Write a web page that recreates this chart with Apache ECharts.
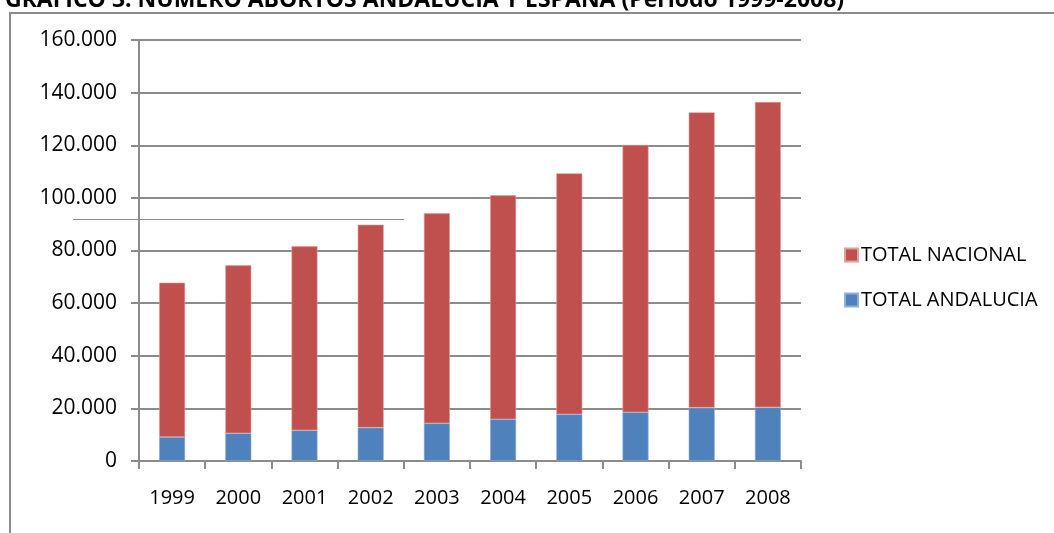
<!DOCTYPE html>
<html>
<head>
<meta charset="utf-8">
<script src="https://cdn.jsdelivr.net/npm/echarts@6/dist/echarts.min.js"></script>
<style>html,body{margin:0;padding:0;background:#fff;}#c{width:1054px;height:533px;}</style>
</head>
<body>
<div id="c"></div>
<script>
var years = ['1999','2000','2001','2002','2003','2004','2005','2006','2007','2008'];
var totalAndalucia = [9120, 10530, 11660, 12670, 14320, 15840, 17740, 18500, 20270, 20390];
var totalNacional = [58650, 63840, 69930, 77130, 79810, 85130, 91590, 101590, 112240, 116040];
var yTicks = [0, 20000, 40000, 60000, 80000, 100000, 120000, 140000, 160000];
var titleText = 'GRAFICO 3. NUMERO ABORTOS ANDALUCIA Y ESPAÑA (Periodo 1999-2008)';

var font = 'Open Sans';
var chart = echarts.init(document.getElementById('c'));
function fmt(v){ if(v===0) return '0'; return String(v).replace(/\B(?=(\d{3})+(?!\d))/g,'.'); }
chart.setOption({
  animation: false,
  backgroundColor: '#fff',
  title: {
    text: titleText, left: 0, top: -16,
    textStyle: {fontFamily: 'Open Sans', fontWeight: 'bold', fontSize: 23, color: '#000'}
  },
  graphic: [
    {type: 'rect', shape: {x: 10, y: 13, width: 1200, height: 700}, style: {fill: null, stroke: '#8c8c8c', lineWidth: 2}, z: -1},
    {type: 'line', shape: {x1: 73, y1: 219.5, x2: 404, y2: 219.5}, style: {stroke: '#8c8c8c', lineWidth: 1}, z: 10}
  ],
  legend: {
    orient: 'vertical', left: 839, top: 240, itemWidth: 13, itemHeight: 13, itemGap: 25,
    icon: 'rect', data: ['TOTAL NACIONAL', 'TOTAL ANDALUCIA'],
    textStyle: {fontFamily: font, fontSize: 20, color: '#000', padding: [0,0,0,-2]}
  },
  grid: {left: 139, right: 253, top: 40, bottom: 72, containLabel: false},
  xAxis: {
    type: 'category', data: years,
    axisLine: {lineStyle: {color: '#8c8c8c', width: 2}},
    axisTick: {show: true, length: 8, lineStyle: {color: '#8c8c8c', width: 2}},
    axisLabel: {fontFamily: font, fontSize: 20, color: '#000', margin: 27}
  },
  yAxis: {
    type: 'value', min: 0, max: 160000, interval: 20000,
    axisLine: {show: true, lineStyle: {color: '#8c8c8c', width: 2}},
    axisTick: {show: true, length: 8, lineStyle: {color: '#8c8c8c', width: 2}},
    splitLine: {lineStyle: {color: '#8c8c8c', width: 2}},
    axisLabel: {fontFamily: font, fontSize: 21, color: '#000', margin: 22, formatter: function(v){ return yTicks.indexOf(v) >= 0 ? fmt(v) : ''; }}
  },
  series: [
    {name: 'TOTAL ANDALUCIA', type: 'bar', stack: 't', data: totalAndalucia, barWidth: 26,
     itemStyle: {color: '#4F81BD', borderColor: '#8fb0d8', borderWidth: 0.6}},
    {name: 'TOTAL NACIONAL', type: 'bar', stack: 't', data: totalNacional, barWidth: 26,
     itemStyle: {color: '#C0504D', borderColor: '#e0a09e', borderWidth: 0.6}}
  ]
});
</script>
</body>
</html>
